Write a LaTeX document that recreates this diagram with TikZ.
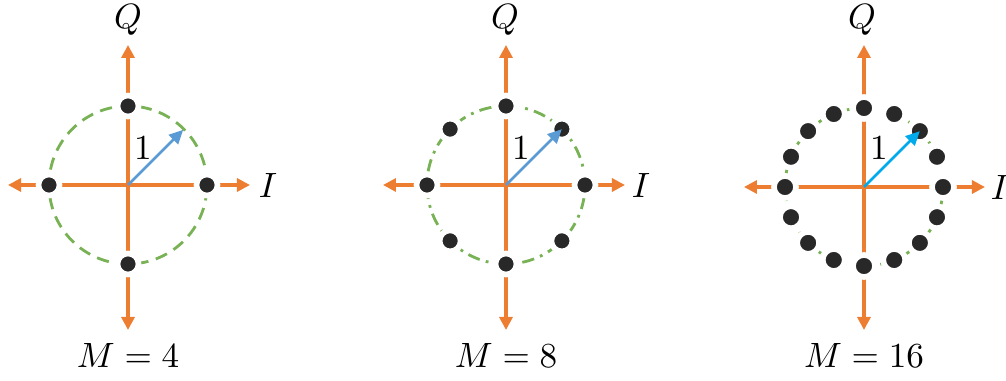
\documentclass[tikz,border=0pt]{standalone}
\usepackage{xcolor}
\usepackage{tikz}
\usetikzlibrary{arrows.meta}

\definecolor{axisorange}{RGB}{237,125,49}
\definecolor{ringgreen}{RGB}{120,178,85}
\definecolor{unitblue}{RGB}{91,155,213}
\definecolor{unitcyan}{RGB}{0,170,235}
\definecolor{symbolgray}{RGB}{40,40,40}

\begin{document}
\begin{tikzpicture}[
    axis/.style={
        {Triangle[length=0.13cm,width=0.13cm]}-{Triangle[length=0.13cm,width=0.13cm]},
        draw=axisorange,
        line width=0.9pt
    },
    ring/.style={
        draw=ringgreen,
        line width=0.8pt,
        dash pattern=on 3.5pt off 2.2pt
    },
    ringdot/.style={
        draw=ringgreen,
        line width=0.8pt,
        dash pattern=on 3.5pt off 1.8pt on 0.8pt off 1.8pt
    },
    symbol/.style={
        circle,
        fill=symbolgray,
        draw=white,
        line width=1.6pt,
        inner sep=0pt,
        minimum size=0.21cm
    },
    unit/.style={
        -{Triangle[length=0.14cm,width=0.13cm]},
        draw=unitblue,
        line width=0.8pt
    }
]
\useasboundingbox (0,0) rectangle (10.06,3.81);

% M = 4
\coordinate (c1) at (1.28,1.96);
\coordinate (l1) at (0.08,1.96);
\coordinate (r1) at (2.50,1.96);
\coordinate (t1) at (1.28,3.36);
\coordinate (b1) at (1.28,0.51);
\coordinate (u1) at ([shift={(45:0.78)}]c1);
\draw[axis] (l1) -- (r1);
\draw[axis] (b1) -- (t1);
\draw[ring] (c1) circle (0.79);
\foreach \k in {0,...,3}
    \node[symbol] (s1-\k) at ([shift={(\k*90:0.79)}]c1) {};
\draw[unit] (c1) -- (u1);
\node (one1) at (1.43,2.33) {$1$};
\node (q1) at (1.28,3.61) {$Q$};
\node (i1) at (2.68,1.96) {$I$};
\node (m1) at (1.28,0.26) {$M=4$};

% M = 8
\coordinate (c2) at (5.06,1.96);
\coordinate (l2) at (3.83,1.96);
\coordinate (r2) at (6.25,1.96);
\coordinate (t2) at (5.06,3.36);
\coordinate (b2) at (5.06,0.51);
\draw[axis] (l2) -- (r2);
\draw[axis] (b2) -- (t2);
\draw[ringdot] (c2) circle (0.79);
\foreach \k in {0,...,7}
    \node[symbol] (s2-\k) at ([shift={(\k*45:0.79)}]c2) {};
\draw[unit] (c2) -- (s2-1.center);
\node (one2) at (5.21,2.33) {$1$};
\node (q2) at (5.05,3.61) {$Q$};
\node (i2) at (6.41,1.96) {$I$};
\node (m2) at (5.06,0.26) {$M=8$};

% M = 16
\coordinate (c3) at (8.64,1.94);
\coordinate (l3) at (7.44,1.94);
\coordinate (r3) at (9.85,1.94);
\coordinate (t3) at (8.64,3.36);
\coordinate (b3) at (8.64,0.51);
\draw[axis] (l3) -- (r3);
\draw[axis] (b3) -- (t3);
\draw[ringdot] (c3) circle (0.79);
\foreach \k in {0,...,15}
    \node[symbol, minimum size=0.22cm] (s3-\k) at ([shift={(\k*22.5:0.79)}]c3) {};
\draw[unit, draw=unitcyan] (c3) -- (s3-2.center);
\node (one3) at (8.79,2.33) {$1$};
\node (q3) at (8.62,3.61) {$Q$};
\node (i3) at (10.00,1.94) {$I$};
\node (m3) at (8.64,0.26) {$M=16$};

\end{tikzpicture}
\end{document}
